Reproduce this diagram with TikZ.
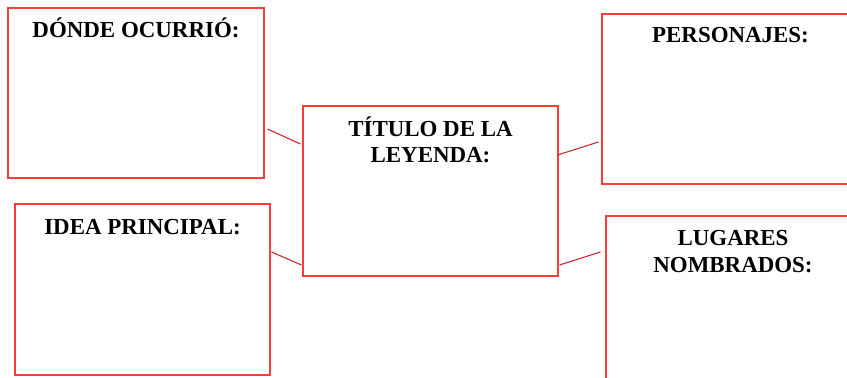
\documentclass[tikz,border=0pt]{standalone}
\usepackage{fontspec}
\setmainfont{Liberation Serif}
\usetikzlibrary{calc}
\definecolor{boxred}{RGB}{250,60,60}
\definecolor{linkred}{RGB}{205,35,45}
\tikzstyle{cuadro} = [rectangle, draw=boxred, line width=0.8pt, inner sep=0pt]
\tikzstyle{titulo} = [anchor=base, align=center, inner sep=0pt, font=\bfseries\fontsize{17.2}{20}\selectfont]
\tikzstyle{enlace} = [draw=linkred, line width=0.8pt]

\begin{document}
\begin{tikzpicture}[x=0.75pt, y=-0.75pt]
    \useasboundingbox (0,0) rectangle (847,378);

    \node (donde) [cuadro, minimum width=192pt, minimum height=127.5pt] at (136,93) {};
    \node (idea) [cuadro, minimum width=191.25pt, minimum height=128.25pt] at (142.5,289.5) {};
    \node (leyenda) [cuadro, minimum width=191.25pt, minimum height=127.5pt] at (430.5,191) {};
    \node (personajes) [cuadro, minimum width=192.75pt, minimum height=127.5pt] at (730.5,99) {};
    \node (lugares) [cuadro, minimum width=190.5pt, minimum height=127.5pt] at (733,301) {};

    % base of a two line title is its last line
    \node (t-donde) [titulo] at ($(donde.north)+(0,30)$) {DÓNDE OCURRIÓ:};
    \node (t-idea) [titulo] at ($(idea.north)+(0,31)$) {IDEA PRINCIPAL:};
    \node (t-leyenda) [titulo] at ($(leyenda.north)+(0,57.3)$) {TÍTULO DE LA\\LEYENDA:};
    \node (t-personajes) [titulo] at ($(personajes.north)+(0,29.5)$) {PERSONAJES:};
    \node (t-lugares) [titulo] at ($(lugares.north)+(0,56.7)$) {LUGARES\\NOMBRADOS:};

    % short links, they do not touch the boxes
    \draw [enlace] ($(donde.east)+(3,36)$) -- ($(leyenda.west)+(-2,-47)$);
    \draw [enlace] ($(idea.east)+(1,-37.5)$) -- ($(leyenda.west)+(-1,74)$);
    \draw [enlace] ($(leyenda.east)+(-1,-36)$) -- ($(personajes.west)+(-3,43)$);
    \draw [enlace] ($(leyenda.east)+(1,74)$) -- ($(lugares.west)+(-5,-49)$);

\end{tikzpicture}
\end{document}
